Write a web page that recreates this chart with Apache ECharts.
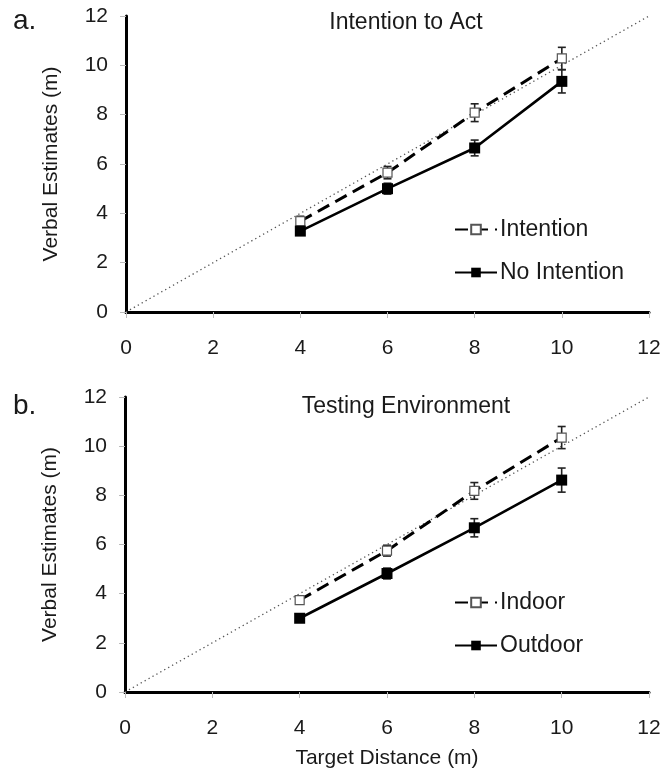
<!DOCTYPE html>
<html>
<head>
<meta charset="utf-8">
<script src="https://cdn.jsdelivr.net/npm/echarts@6/dist/echarts.min.js"></script>
<style>
  html, body { margin: 0; padding: 0; background: #fff; }
  #chart { width: 665px; height: 777px; }
</style>
</head>
<body>
<div id="chart"></div>
<script>
// 目标距离
const distances = [4, 6, 8, 10]
const axisTicks = [0, 2, 4, 6, 8, 10, 12]

// a. Intention to Act
const intentionMean = [3.68, 5.65, 8.08, 10.28]
const intentionErr = [0.2, 0.25, 0.36, 0.45]
const noIntentionMean = [3.28, 5.0, 6.65, 9.35]
const noIntentionErr = [0.15, 0.22, 0.32, 0.47]

// b. Testing Environment
const indoorMean = [3.74, 5.75, 8.18, 10.35]
const indoorErr = [0.12, 0.22, 0.34, 0.45]
const outdoorMean = [3.0, 4.82, 6.68, 8.62]
const outdoorErr = [0.1, 0.22, 0.37, 0.49]

// 参考对角线 y = x
const diagonal = [0, 12]

const font = 'Liberation Sans, Arial, sans-serif'
const textColor = '#1a1a1a'

const pairs = (xs, ys) => xs.map((x, i) => [x, ys[i]])
const errPairs = (xs, ys, es) => xs.map((x, i) => [x, ys[i], es[i]])

// 误差线
const errorBar = (grid, data, color) => ({
  type: 'custom',
  xAxisIndex: grid,
  yAxisIndex: grid,
  z: 3,
  silent: true,
  data: data,
  renderItem: (params, api) => {
    const x = api.value(0), y = api.value(1), e = api.value(2)
    const hi = api.coord([x, y + e])
    const lo = api.coord([x, y - e])
    const w = 4
    const style = { stroke: color, lineWidth: 1.6 }
    return {
      type: 'group',
      children: [
        { type: 'line', shape: { x1: hi[0], y1: hi[1], x2: lo[0], y2: lo[1] }, style },
        { type: 'line', shape: { x1: hi[0] - w, y1: hi[1], x2: hi[0] + w, y2: hi[1] }, style },
        { type: 'line', shape: { x1: lo[0] - w, y1: lo[1], x2: lo[0] + w, y2: lo[1] }, style }
      ]
    }
  }
})

const hollowLine = (grid, name, data) => ({
  name: name,
  type: 'line',
  xAxisIndex: grid,
  yAxisIndex: grid,
  z: 4,
  data: data,
  symbol: 'rect',
  symbolSize: 9,
  lineStyle: { color: '#000', width: 3, type: [13, 7] },
  itemStyle: { color: '#fff', borderColor: '#555', borderWidth: 1.2 }
})

const solidLine = (grid, name, data) => ({
  name: name,
  type: 'line',
  xAxisIndex: grid,
  yAxisIndex: grid,
  z: 4,
  data: data,
  symbol: 'rect',
  symbolSize: 11,
  lineStyle: { color: '#000', width: 2.6 },
  itemStyle: { color: '#000', borderColor: '#000', borderWidth: 0 }
})

const diagLine = (grid) => ({
  type: 'line',
  xAxisIndex: grid,
  yAxisIndex: grid,
  z: 2,
  silent: true,
  symbol: 'none',
  data: pairs(diagonal, diagonal),
  lineStyle: { color: '#555', width: 1.3, type: [1.3, 3.2] }
})

const xAxisBase = (grid, withName) => ({
  type: 'value',
  gridIndex: grid,
  min: 0, max: 12, interval: 2,
  axisLine: { lineStyle: { color: '#000', width: 3 } },
  axisTick: { show: true, length: 6, lineStyle: { color: '#bbb', width: 1 } },
  splitLine: { show: false },
  axisLabel: { color: textColor, fontSize: 21, fontFamily: font, margin: 26,
    formatter: v => axisTicks.includes(v) ? String(v) : '' },
  name: withName ? 'Target Distance (m)' : '',
  nameLocation: 'middle',
  nameGap: 56,
  nameTextStyle: { color: textColor, fontSize: 21, fontFamily: font }
})

const yAxisBase = (grid) => ({
  type: 'value',
  gridIndex: grid,
  min: 0, max: 12, interval: 2,
  axisLine: { show: true, lineStyle: { color: '#000', width: 3 } },
  axisTick: { show: true, length: 6, lineStyle: { color: '#bbb', width: 1 } },
  splitLine: { show: false },
  axisLabel: { color: textColor, fontSize: 21, fontFamily: font, margin: 18 },
  name: 'Verbal Estimates (m)',
  nameLocation: 'middle',
  nameRotate: 90,
  nameGap: 64,
  nameTextStyle: { color: textColor, fontSize: 21, fontFamily: font }
})

const legendBase = (names, top) => ({
  orient: 'vertical',
  left: 449,
  top: top,
  data: names,
  itemWidth: 42,
  itemHeight: 12,
  itemGap: 18,
  selectedMode: false,
  textStyle: { color: textColor, fontSize: 23, fontFamily: font, lineHeight: 25, padding: [0, 0, 0, -2] }
})

const chart = echarts.init(document.getElementById('chart'))
chart.setOption({
  animation: false,
  backgroundColor: '#fff',
  title: [
    { text: 'a.', left: 8, top: 2, textStyle: { fontSize: 28, fontWeight: 'normal', color: textColor, fontFamily: font } },
    { text: 'Intention to Act', left: 401, top: 6, textAlign: 'center', textStyle: { fontSize: 23, fontWeight: 'normal', color: textColor, fontFamily: font } },
    { text: 'b.', left: 8, top: 387, textStyle: { fontSize: 28, fontWeight: 'normal', color: textColor, fontFamily: font } },
    { text: 'Testing Environment', left: 401, top: 390, textAlign: 'center', textStyle: { fontSize: 23, fontWeight: 'normal', color: textColor, fontFamily: font } }
  ],
  grid: [
    { left: 126, right: 16, top: 16, height: 296 },
    { left: 125, right: 16, top: 397, height: 295 }
  ],
  xAxis: [xAxisBase(0, false), xAxisBase(1, true)],
  yAxis: [yAxisBase(0), yAxisBase(1)],
  legend: [
    legendBase(['Intention', 'No Intention'], 212),
    legendBase(['Indoor', 'Outdoor'], 585)
  ],
  series: [
    diagLine(0),
    errorBar(0, errPairs(distances, intentionMean, intentionErr), '#222'),
    errorBar(0, errPairs(distances, noIntentionMean, noIntentionErr), '#222'),
    hollowLine(0, 'Intention', pairs(distances, intentionMean)),
    solidLine(0, 'No Intention', pairs(distances, noIntentionMean)),
    diagLine(1),
    errorBar(1, errPairs(distances, indoorMean, indoorErr), '#222'),
    errorBar(1, errPairs(distances, outdoorMean, outdoorErr), '#222'),
    hollowLine(1, 'Indoor', pairs(distances, indoorMean)),
    solidLine(1, 'Outdoor', pairs(distances, outdoorMean))
  ]
})
</script>
</body>
</html>
